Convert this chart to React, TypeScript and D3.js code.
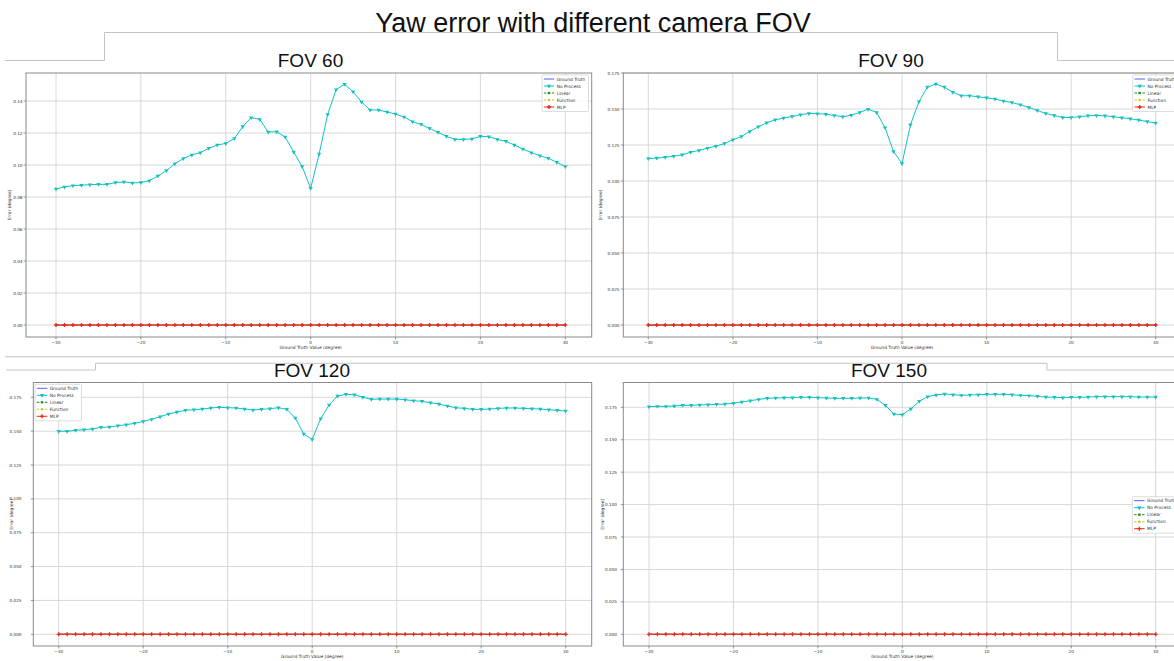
import React from "react";
import * as d3 from "d3";

const groundTruthDeg = [
  -30, -29, -28, -27, -26, -25, -24, -23, -22, -21, -20, -19, -18, -17, -16, -15, -14, -13, -12, -11,
  -10, -9, -8, -7, -6, -5, -4, -3, -2, -1, 0, 1, 2, 3, 4, 5, 6, 7, 8, 9, 10, 11, 12, 13, 14, 15, 16, 17,
  18, 19, 20, 21, 22, 23, 24, 25, 26, 27, 28, 29, 30,
];

const zeroError = [
  0, 0, 0, 0, 0, 0, 0, 0, 0, 0, 0, 0, 0, 0, 0, 0, 0, 0, 0, 0, 0, 0, 0, 0, 0, 0, 0, 0, 0, 0, 0,
  0, 0, 0, 0, 0, 0, 0, 0, 0, 0, 0, 0, 0, 0, 0, 0, 0, 0, 0, 0, 0, 0, 0, 0, 0, 0, 0, 0, 0, 0,
];

const fov60NoProcess = [
  0.085, 0.0863, 0.0871, 0.0873, 0.0877, 0.0879, 0.0879, 0.089, 0.0894, 0.0888, 0.089, 0.0902, 0.0931,
  0.0965, 0.1008, 0.104, 0.1063, 0.1077, 0.1104, 0.1125, 0.1135, 0.1165, 0.124, 0.1296, 0.1285, 0.1206,
  0.1208, 0.1175, 0.1081, 0.099, 0.0854,
  0.1069, 0.1315, 0.1471, 0.1504, 0.1458, 0.1394, 0.1344, 0.1344, 0.1331, 0.1319, 0.13, 0.1271, 0.1254,
  0.1229, 0.1204, 0.1179, 0.116, 0.116, 0.1163, 0.1179, 0.1177, 0.116, 0.1148, 0.1125, 0.11, 0.1077,
  0.1058, 0.1042, 0.1017, 0.099,
];

const fov90NoProcess = [
  0.1156, 0.1159, 0.1165, 0.1172, 0.1182, 0.12, 0.1212, 0.1228, 0.1242, 0.126, 0.1286, 0.1309, 0.1344,
  0.1376, 0.1404, 0.1425, 0.1437, 0.1448, 0.146, 0.1469, 0.1467, 0.1464, 0.1455, 0.1446, 0.1457, 0.1476,
  0.1499, 0.1476, 0.1369, 0.1205, 0.1121,
  0.139, 0.155, 0.1652, 0.1673, 0.1652, 0.1617, 0.1592, 0.1592, 0.1585, 0.1578, 0.1569, 0.1555, 0.1545,
  0.1529, 0.1511, 0.149, 0.1469, 0.1455, 0.1441, 0.1441, 0.1446, 0.1453, 0.1455, 0.1453, 0.1446, 0.1439,
  0.1432, 0.1423, 0.1413, 0.1402,
];

const fov120NoProcess = [
  0.1499, 0.1499, 0.1506, 0.1511, 0.1516, 0.1528, 0.153, 0.154, 0.1548, 0.1558, 0.1572, 0.1587, 0.1607,
  0.1626, 0.1641, 0.1654, 0.1658, 0.1663, 0.1671, 0.1676, 0.1673, 0.1671, 0.1663, 0.1656, 0.1661, 0.1666,
  0.1673, 0.1661, 0.1597, 0.1479, 0.1439,
  0.1592, 0.1693, 0.1759, 0.1772, 0.1769, 0.175, 0.1735, 0.1737, 0.1737, 0.1737, 0.1732, 0.1725, 0.172,
  0.171, 0.17, 0.1686, 0.1673, 0.1668, 0.1661, 0.1661, 0.1663, 0.1668, 0.1671, 0.1671, 0.1668, 0.1666,
  0.1663, 0.1658, 0.1654, 0.1649,
];

const fov150NoProcess = [
  0.1755, 0.1757, 0.1757, 0.176, 0.1765, 0.1765, 0.1768, 0.177, 0.1773, 0.1775, 0.1781, 0.1791, 0.1801,
  0.1811, 0.1819, 0.1822, 0.1824, 0.1824, 0.1827, 0.1827, 0.1824, 0.1822, 0.1819, 0.1819, 0.1819, 0.1822,
  0.1822, 0.1811, 0.1765, 0.1698, 0.1693,
  0.1737, 0.1796, 0.1832, 0.1845, 0.1853, 0.1847, 0.1842, 0.1845, 0.1847, 0.185, 0.185, 0.185, 0.1847,
  0.1842, 0.184, 0.1835, 0.1829, 0.1827, 0.1824, 0.1827, 0.1827, 0.1829, 0.1832, 0.1832, 0.1832, 0.1832,
  0.1832, 0.1829, 0.1829, 0.1829,
];

const xTicks = [-30, -20, -10, 0, 10, 20, 30];
const fov60YTicks = [0, 0.02, 0.04, 0.06, 0.08, 0.1, 0.12, 0.14];
const wideYTicks = [0, 0.025, 0.05, 0.075, 0.1, 0.125, 0.15, 0.175];
const legendLabels = ["Ground Truth", "No Process", "Linear", "Function", "MLP"];
const mainTitle = "Yaw error with different camera FOV";
const xAxisLabel = "Ground Truth Value (degree)";
const yAxisLabel = "Error (degree)";

const C_GT = "#5c5cff";
const C_NP = "#13c1c1";
const C_LIN = "#1a8a1a";
const C_FUN = "#c8c832";
const C_MLP = "#ee2a1a";

type Panel = {
  title: string;
  values: number[];
  yTicks: number[];
  yDomainMax: number;
  decimals: number;
  box: { l: number; r: number; t: number; b: number };
  xRange: [number, number];
  yRange: [number, number];
  titleX: number;
  titleY: number;
  legend: { x: number; y: number };
  yLabelX: number;
  tickRight: number;
};

const panels: Panel[] = [
  {
    title: "FOV 60",
    values: fov60NoProcess,
    yTicks: fov60YTicks,
    yDomainMax: 0.14,
    decimals: 2,
    box: { l: 26, r: 591.7, t: 73, b: 337 },
    xRange: [56, 565.3],
    yRange: [325, 101],
    titleX: 310.5,
    titleY: 67,
    legend: { x: 542, y: 75 },
    yLabelX: 11,
    tickRight: 22.5,
  },
  {
    title: "FOV 90",
    values: fov90NoProcess,
    yTicks: wideYTicks,
    yDomainMax: 0.175,
    decimals: 3,
    box: { l: 623.3, r: 1181, t: 73, b: 337 },
    xRange: [648.3, 1155.7],
    yRange: [325, 73],
    titleX: 891,
    titleY: 67,
    legend: { x: 1132.7, y: 75 },
    yLabelX: 602,
    tickRight: 619.5,
  },
  {
    title: "FOV 120",
    values: fov120NoProcess,
    yTicks: wideYTicks,
    yDomainMax: 0.175,
    decimals: 3,
    box: { l: 33.3, r: 591.7, t: 382.5, b: 646 },
    xRange: [58.7, 565.7],
    yRange: [634.3, 397.3],
    titleX: 312,
    titleY: 377,
    legend: { x: 35, y: 384.3 },
    yLabelX: 13,
    tickRight: 21.5,
  },
  {
    title: "FOV 150",
    values: fov150NoProcess,
    yTicks: wideYTicks,
    yDomainMax: 0.175,
    decimals: 3,
    box: { l: 623.3, r: 1181, t: 382.5, b: 646 },
    xRange: [649, 1155.7],
    yRange: [634.3, 407.3],
    titleX: 889,
    titleY: 377,
    legend: { x: 1132.3, y: 496.7 },
    yLabelX: 603.5,
    tickRight: 617,
  },
];

const MPL = "'DejaVu Sans', sans-serif";
const ARIAL = "'Liberation Sans', Arial, sans-serif";

function fmtTick(v: number) {
  return v < 0 ? "\u2212" + Math.abs(v) : String(v);
}

function PanelView({ p }: { p: Panel }) {
  const x = d3.scaleLinear().domain([-30, 30]).range(p.xRange);
  const y = d3.scaleLinear().domain([0, p.yDomainMax]).range(p.yRange);
  const line = d3
    .line<number>()
    .x((_, i) => x(groundTruthDeg[i]))
    .y((d) => y(d));
  const tri = d3.symbol().type(d3.symbolTriangle).size(8)() as string;
  const cross = d3.symbol().type(d3.symbolCross).size(9)() as string;
  const sq = d3.symbol().type(d3.symbolSquare).size(5)() as string;
  const circ = d3.symbol().type(d3.symbolCircle).size(5)() as string;
  const { l, r, t, b } = p.box;
  const fmt = d3.format("." + p.decimals + "f");
  const lg = p.legend;
  const legendW = 46.5;
  const legendH = 36.5;
  return (
    <g>
      <text
        x={p.titleX}
        y={p.titleY}
        textAnchor="middle"
        fontFamily={ARIAL}
        fontSize={19}
        fill="#111"
      >
        {p.title}
      </text>
      <rect x={l} y={t} width={r - l} height={b - t} fill="#fff" />
      {xTicks.map((v) => (
        <line key={"gx" + v} x1={x(v)} x2={x(v)} y1={t} y2={b} stroke="#d4d4d4" strokeWidth={0.9} />
      ))}
      {p.yTicks.map((v) => (
        <line key={"gy" + v} x1={l} x2={r} y1={y(v)} y2={y(v)} stroke="#d4d4d4" strokeWidth={0.9} />
      ))}
      <path d={line(zeroError) || ""} fill="none" stroke={C_GT} strokeWidth={1} />
      <path d={line(zeroError) || ""} fill="none" stroke={C_LIN} strokeWidth={1} strokeDasharray="3,2" />
      <path d={line(zeroError) || ""} fill="none" stroke={C_FUN} strokeWidth={1} strokeDasharray="3,2" />
      <path d={line(zeroError) || ""} fill="none" stroke={C_MLP} strokeOpacity={0.75} strokeWidth={1.6} />
      {zeroError.map((v, i) => (
        <path key={"m" + i} d={cross} transform={`translate(${x(groundTruthDeg[i])},${y(v)})`} fill={C_MLP} />
      ))}
      <path d={line(p.values) || ""} fill="none" stroke={C_NP} strokeWidth={1} />
      {p.values.map((v, i) => (
        <path
          key={"n" + i}
          d={tri}
          transform={`translate(${x(groundTruthDeg[i])},${y(v)}) rotate(180)`}
          fill={C_NP}
        />
      ))}
      <rect x={l} y={t} width={r - l} height={b - t} fill="none" stroke="#8a8a8a" strokeWidth={1} />
      {xTicks.map((v) => (
        <g key={"tx" + v}>
          <line x1={x(v)} x2={x(v)} y1={b} y2={b + 2.5} stroke="#555" strokeWidth={0.6} />
          <text x={x(v)} y={b + 7} textAnchor="middle" fontFamily={MPL} fontSize={4.2} fill="#333">
            {fmtTick(v)}
          </text>
        </g>
      ))}
      {p.yTicks.map((v) => (
        <g key={"ty" + v}>
          <line x1={l - 2.5} x2={l} y1={y(v)} y2={y(v)} stroke="#555" strokeWidth={0.6} />
          <text
            x={p.tickRight}
            y={y(v) + 1.5}
            textAnchor="end"
            fontFamily={MPL}
            fontSize={4.2}
            fill="#333"
          >
            {fmt(v)}
          </text>
        </g>
      ))}
      <text
        x={(x(-30) + x(30)) / 2}
        y={b + 12.3}
        textAnchor="middle"
        fontFamily={MPL}
        fontSize={4.4}
        fill="#333"
      >
        {xAxisLabel}
      </text>
      <text
        transform={`translate(${p.yLabelX},${(t + b) / 2}) rotate(-90)`}
        textAnchor="middle"
        fontFamily={MPL}
        fontSize={4.4}
        fill="#333"
      >
        {yAxisLabel}
      </text>
      <g transform={`translate(${lg.x},${lg.y})`}>
        <rect x={0} y={0} width={legendW} height={legendH} rx={1} fill="#fff" fillOpacity={0.85} stroke="#cfcfcf" strokeWidth={0.7} />
        {legendLabels.map((name, i) => {
          const yy = 4 + i * 7;
          const color = [C_GT, C_NP, C_LIN, C_FUN, C_MLP][i];
          const dash = i === 2 || i === 3 ? "2.5,1.5" : undefined;
          const marker = [null, tri, sq, circ, cross][i];
          return (
            <g key={name}>
              <line x1={1.8} x2={12.3} y1={yy} y2={yy} stroke={color} strokeWidth={1} strokeDasharray={dash} />
              {marker && (
                <path
                  d={marker}
                  transform={`translate(7,${yy})${i === 1 ? " rotate(180)" : ""}`}
                  fill={color}
                />
              )}
              <text x={14.7} y={yy + 1.5} fontFamily={MPL} fontSize={4.4} fill="#333">
                {name}
              </text>
            </g>
          );
        })}
      </g>
    </g>
  );
}

export default function App() {
  const frame = "#c4c4c4";
  return (
    <svg
      width={1174}
      height={661}
      viewBox="0 0 1174 661"
      style={{ position: "absolute", left: 0, top: 0, overflow: "hidden", background: "#fff" }}
    >
      <rect x={0} y={0} width={1174} height={661} fill="#fff" />
      <polyline
        points="5,60.5 104.5,60.5 104.5,32.5 1057.5,32.5 1057.5,60.5 1174,60.5"
        fill="none"
        stroke={frame}
        strokeWidth={1}
      />
      <line x1={5} x2={1174} y1={356.7} y2={356.7} stroke={frame} strokeWidth={1} />
      <polyline
        points="6,370 95.5,370 95.5,363.3 1047,363.3 1047,370 1174,370"
        fill="none"
        stroke={frame}
        strokeWidth={1}
      />
      <text x={593} y={32} textAnchor="middle" fontFamily={ARIAL} fontSize={27} fill="#111">
        {mainTitle}
      </text>
      {panels.map((p) => (
        <PanelView key={p.title} p={p} />
      ))}
    </svg>
  );
}
